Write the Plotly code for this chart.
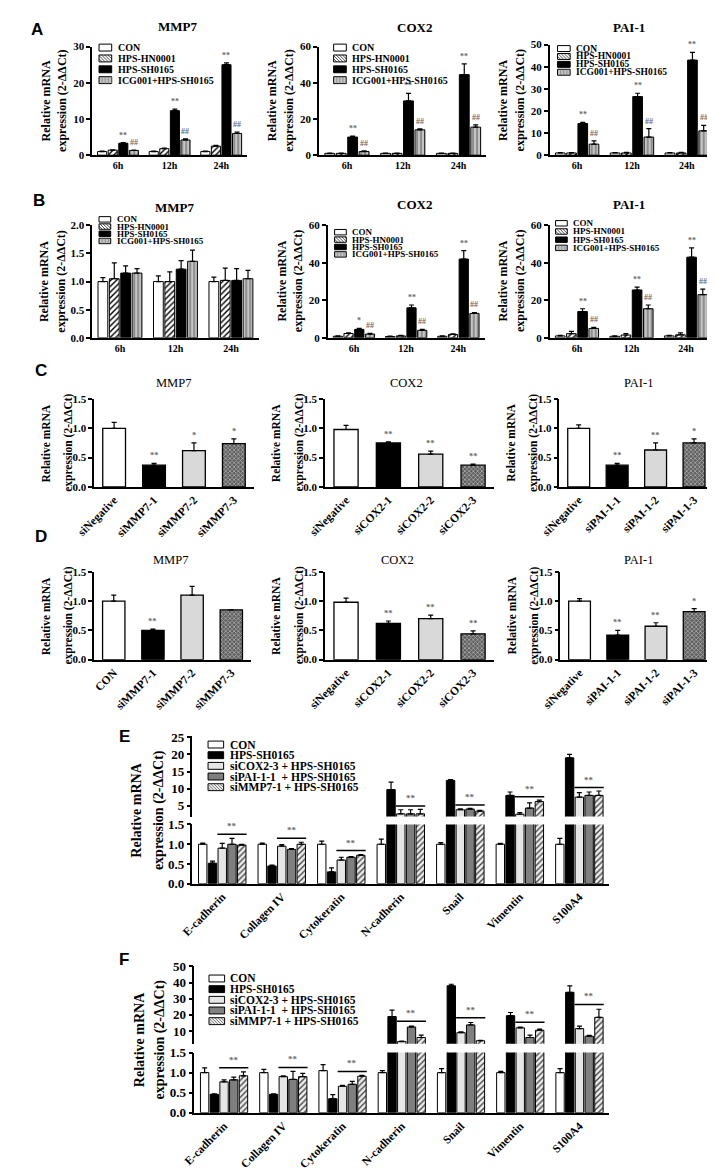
import plotly.graph_objects as go

W, H = 715, 1171
SERIF = "Liberation Serif"
SANS = "Liberation Sans"

# ---------- A / B : time course, four groups ----------
times = ["6h", "12h", "24h"]
ab_groups = ["CON", "HPS-HN0001", "HPS-SH0165", "ICG001+HPS-SH0165"]

a_mmp7 = [[1.0, 1.0, 1.0], [1.4, 1.8, 2.5], [3.3, 12.3, 25.0], [1.3, 4.2, 6.0]]
a_mmp7_err = [[0.1, 0.1, 0.1], [0.1, 0.15, 0.2], [0.2, 0.4, 0.5], [0.1, 0.3, 0.4]]
a_cox2 = [[1.0, 1.0, 1.0], [1.0, 1.0, 1.0], [10.0, 30.0, 44.5], [2.0, 14.0, 15.5]]
a_cox2_err = [[0.2, 0.2, 0.2], [0.2, 0.2, 0.2], [0.6, 4.2, 6.0], [0.4, 0.5, 1.2]]
a_pai1 = [[1.0, 1.0, 1.0], [1.0, 1.0, 1.0], [14.3, 26.5, 43.0], [5.0, 8.2, 11.0]]
a_pai1_err = [[0.2, 0.2, 0.2], [0.2, 0.3, 0.3], [0.5, 1.5, 3.5], [1.5, 3.8, 2.5]]

b_mmp7 = [[1.0, 1.0, 1.0], [1.05, 1.0, 1.02], [1.15, 1.22, 1.02], [1.15, 1.36, 1.05]]
b_mmp7_err = [[0.07, 0.1, 0.08], [0.28, 0.17, 0.22], [0.13, 0.15, 0.21], [0.08, 0.2, 0.15]]
b_cox2 = [[0.8, 0.7, 0.8], [2.3, 1.0, 1.8], [4.5, 16.0, 42.0], [2.0, 4.0, 13.0]]
b_cox2_err = [[0.2, 0.2, 0.2], [0.3, 0.3, 0.3], [0.5, 1.5, 4.5], [0.4, 0.5, 0.5]]
b_pai1 = [[1.0, 0.8, 1.0], [2.2, 1.5, 1.6], [14.0, 25.5, 43.0], [5.0, 15.5, 23.0]]
b_pai1_err = [[0.3, 0.3, 0.3], [1.2, 0.8, 1.0], [1.5, 1.5, 5.0], [0.6, 2.0, 3.0]]

sig_all = [["", "", ""], ["", "", ""], ["**", "**", "**"], ["##", "##", "##"]]
sig_none = [["", "", ""]] * 4
sig_b_cox2 = [["", "", ""], ["", "", ""], ["*", "**", "**"], ["##", "##", "##"]]

# ---------- C / D : siRNA knockdown ----------
c_mmp7_labels = ["siNegative", "siMMP7-1", "siMMP7-2", "siMMP7-3"]
c_cox2_labels = ["siNegative", "siCOX2-1", "siCOX2-2", "siCOX2-3"]
c_pai1_labels = ["siNegative", "siPAI-1-1", "siPAI-1-2", "siPAI-1-3"]
d_mmp7_labels = ["CON", "siMMP7-1", "siMMP7-2", "siMMP7-3"]

c_mmp7 = [1.0, 0.37, 0.62, 0.74]
c_mmp7_err = [0.1, 0.03, 0.13, 0.08]
c_mmp7_sig = ["", "**", "*", "*"]
c_cox2 = [0.98, 0.75, 0.56, 0.37]
c_cox2_err = [0.07, 0.02, 0.05, 0.02]
c_cox2_sig = ["", "**", "**", "**"]
c_pai1 = [1.0, 0.37, 0.63, 0.75]
c_pai1_err = [0.06, 0.03, 0.12, 0.07]
c_pai1_sig = ["", "**", "**", "*"]

d_mmp7 = [1.0, 0.5, 1.1, 0.85]
d_mmp7_err = [0.1, 0.02, 0.15, 0.0]
d_mmp7_sig = ["", "**", "", ""]
d_cox2 = [0.98, 0.62, 0.7, 0.44]
d_cox2_err = [0.07, 0.04, 0.06, 0.05]
d_cox2_sig = ["", "**", "**", "**"]
d_pai1 = [1.0, 0.42, 0.57, 0.82]
d_pai1_err = [0.04, 0.08, 0.06, 0.05]
d_pai1_sig = ["", "**", "**", "*"]

# ---------- E / F : EMT markers ----------
markers = ["E-cadherin", "Collagen IV", "Cytokeratin", "N-cadherin", "Snail", "Vimentin", "S100A4"]
ef_groups = ["CON", "HPS-SH0165", "siCOX2-3 + HPS-SH0165",
             "siPAI-1-1\u00a0 + HPS-SH0165", "siMMP7-1 + HPS-SH0165"]

e_vals = [[1.0, 1.0, 1.0, 1.0, 1.0, 1.0, 1.0],
          [0.52, 0.45, 0.3, 9.7, 12.4, 8.0, 19.0],
          [0.9, 0.95, 0.6, 2.6, 3.8, 2.5, 7.5],
          [1.0, 0.87, 0.67, 2.6, 4.0, 4.3, 8.0],
          [0.98, 1.0, 0.72, 2.6, 3.4, 6.2, 8.0]]
e_errs = [[0.03, 0.03, 0.08, 0.13, 0.04, 0.02, 0.15],
          [0.05, 0.02, 0.1, 2.2, 0.2, 1.0, 1.0],
          [0.12, 0.04, 0.07, 1.2, 0.3, 0.5, 1.3],
          [0.15, 0.02, 0.02, 1.2, 0.2, 1.5, 1.0],
          [0.02, 0.05, 0.02, 1.3, 0.2, 0.4, 1.3]]

f_vals = [[1.0, 1.0, 1.05, 1.0, 1.0, 1.0, 1.0],
          [0.46, 0.46, 0.35, 19.0, 38.0, 19.5, 34.0],
          [0.77, 0.9, 0.66, 3.5, 9.0, 12.0, 11.5],
          [0.82, 0.83, 0.71, 12.5, 13.8, 6.0, 6.8],
          [0.92, 0.9, 0.91, 6.0, 4.0, 10.5, 18.5]]
f_errs = [[0.12, 0.08, 0.15, 0.05, 0.1, 0.03, 0.1],
          [0.01, 0.01, 0.1, 4.0, 1.0, 2.0, 4.0],
          [0.05, 0.02, 0.02, 0.3, 0.5, 0.5, 1.5],
          [0.07, 0.2, 0.07, 0.5, 1.5, 1.5, 0.5],
          [0.1, 0.08, 0.02, 1.5, 0.3, 0.7, 5.0]]

# styles: (fill, pattern shape, pattern fg, pattern bg)
ab_styles = [("white", "", None, None), ("white", "/", "black", "white"),
             ("black", "", None, None), ("#c4c4c4", "|", "#777777", "#c4c4c4")]
cd_styles = [("white", "", None, None), ("black", "", None, None),
             ("#d9d9d9", "", None, None), ("#5e5e5e", "x", "#1a1a1a", "#5e5e5e")]
ef_styles = [("white", "", None, None), ("black", "", None, None),
             ("#e6e6e6", "", None, None), ("#7f7f7f", "", None, None),
             ("#eeeeee", "/", "#444444", "#eeeeee")]

YT1, YT2 = "Relative mRNA", "expression (2-ΔΔCt)"
GAP, GROUPGAP = 0.18, 0.14
SIGCOL = "#6a6a6a"

fig = go.Figure()
shapes, annos = [], []


def fx(px):
    return px / W


def fy(py):
    return 1 - py / H


def bold(size, color="black"):
    return dict(family=SERIF, size=size, color=color, weight="bold")


def make_axes(idx, x0, x1, ytop, ybot, yrange, yticks, cats, xfont=10, xangle=0,
              yfont=11, yfmt=None, showx=True):
    xn = "xaxis" if idx == 1 else f"xaxis{idx}"
    yn = "yaxis" if idx == 1 else f"yaxis{idx}"
    xax = dict(domain=[fx(x0), fx(x1)], anchor=f"y{idx}", type="category",
               categoryorder="array", categoryarray=cats, range=[-0.5, len(cats) - 0.5],
               showline=True, linecolor="black", linewidth=2, ticks="",
               tickfont=bold(xfont), tickangle=xangle, showgrid=False, zeroline=False)
    yax = dict(domain=[fy(ybot), fy(ytop)], anchor=f"x{idx}", range=yrange, tickvals=yticks,
               ticks="outside", ticklen=4, tickwidth=1.5, tickcolor="black",
               showline=True, linecolor="black", linewidth=1.5, tickfont=bold(yfont),
               showgrid=False, zeroline=False)
    if yfmt:
        yax["tickformat"] = yfmt
    if not showx:
        xax["visible"] = False
    fig.update_layout({xn: xax, yn: yax})
    return f"x{idx}", f"y{idx}"


def ytitle(axis_px, ytop, ybot, size, d1, d2):
    yc = (ytop + ybot) / 2
    for txt, d in ((YT1, d1), (YT2, d2)):
        annos.append(dict(xref="paper", yref="paper", x=fx(axis_px - d), y=fy(yc), text=txt,
                          textangle=-90, showarrow=False, xanchor="center", yanchor="middle",
                          font=bold(size)))


def bar_marker(st, psize=4):
    color, shape, fg, bg = st
    m = dict(color=color, line=dict(color="black", width=1))
    if shape:
        m["pattern"] = dict(shape=shape, fgcolor=fg, bgcolor=bg, size=psize,
                            solidity=0.35, fillmode="replace")
    return m


def err(e):
    return dict(type="data", array=e, arrayminus=[0] * len(e), symmetric=False,
                color="black", thickness=1.2, width=2.5)


def slot_x(g, i, n):
    slot = (1 - GAP) / n
    return g - (1 - GAP) / 2 + slot * (i + 0.5)


def grouped(xa, ya, cats, vals, errs, styles, sigs=None, sig_size=8):
    n = len(vals)
    for i, (v, e, st) in enumerate(zip(vals, errs, styles)):
        fig.add_trace(go.Bar(x=cats, y=v, xaxis=xa, yaxis=ya, marker=bar_marker(st),
                             error_y=err(e), showlegend=False))
        if sigs:
            for g, s in enumerate(sigs[i]):
                if s:
                    annos.append(dict(xref=xa, yref=ya, x=slot_x(g, i, n), y=v[g] + e[g],
                                      text=s, yshift=1, yanchor="bottom", showarrow=False,
                                      font=bold(sig_size, SIGCOL)))


def single(xa, ya, cats, vals, errs, styles, sigs):
    marker = dict(color=[s[0] for s in styles], line=dict(color="black", width=1.3),
                  pattern=dict(shape=[s[1] for s in styles],
                               fgcolor=[s[2] or "black" for s in styles],
                               size=3, solidity=0.45, fillmode="overlay"))
    fig.add_trace(go.Bar(x=cats, y=vals, xaxis=xa, yaxis=ya, width=0.57, marker=marker,
                         error_y=err(errs), showlegend=False))
    for g, s in enumerate(sigs):
        if s:
            annos.append(dict(xref=xa, yref=ya, x=g, y=vals[g] + errs[g], text=s, yshift=1,
                              yanchor="bottom", showarrow=False, font=bold(8.5, SIGCOL)))


def hatch(bx, by, bw, bh, shape, color, step=3.2):
    segs = []
    if shape == "|":
        u = step
        while u < bw:
            segs.append((bx + u, by, bx + u, by + bh))
            u += step
    if shape in ("/", "x"):
        c = step
        while c < bw + bh:
            u0, u1 = max(0, c - bh), min(bw, c)
            segs.append((bx + u0, by + bh - (c - u0), bx + u1, by + bh - (c - u1)))
            if shape == "x":
                segs.append((bx + bw - u0, by + bh - (c - u0), bx + bw - u1, by + bh - (c - u1)))
            c += step
    for x0, y0, x1, y1 in segs:
        shapes.append(dict(type="line", xref="paper", yref="paper", x0=fx(x0), y0=fy(y0),
                           x1=fx(x1), y1=fy(y1), line=dict(color=color, width=0.7)))


def legend(x0, y0, rowh, labels, styles, size, bw=13, bh=7):
    for k, (lab, st) in enumerate(zip(labels, styles)):
        yc = y0 + k * rowh
        color, shape, fg, bg = st
        shapes.append(dict(type="rect", xref="paper", yref="paper",
                           x0=fx(x0), x1=fx(x0 + bw), y0=fy(yc + bh / 2), y1=fy(yc - bh / 2),
                           fillcolor=bg if shape else color, line=dict(color="black", width=1)))
        if shape:
            hatch(x0, yc - bh / 2, bw, bh, shape, fg)
        annos.append(dict(xref="paper", yref="paper", x=fx(x0 + bw + 4), y=fy(yc),
                          xanchor="left", yanchor="middle", text=lab, showarrow=False,
                          font=bold(size)))


def text(px, py, s, size, weight="bold"):
    annos.append(dict(xref="paper", yref="paper", x=fx(px), y=fy(py), text=s,
                      showarrow=False, xanchor="center", yanchor="middle",
                      font=dict(family=SERIF, size=size, color="black", weight=weight)))


def letter(px, py, s):
    annos.append(dict(xref="paper", yref="paper", x=fx(px), y=fy(py), text=s,
                      showarrow=False, xanchor="left", yanchor="middle",
                      font=dict(family=SANS, size=17, color="black", weight="bold")))


# ---------------- panel A ----------------
letter(2, 15, "A")
xa, ya = make_axes(1, 67, 226, 32, 142, [0, 30], [0, 10, 20, 30], times)
grouped(xa, ya, times, a_mmp7, a_mmp7_err, ab_styles, sig_all)
xa, ya = make_axes(2, 300, 472, 32, 142, [0, 60], [0, 20, 40, 60], times)
grouped(xa, ya, times, a_cox2, a_cox2_err, ab_styles, sig_all)
xa, ya = make_axes(3, 537, 706, 30, 142, [0, 50], [0, 10, 20, 30, 40, 50], times)
grouped(xa, ya, times, a_pai1, a_pai1_err, ab_styles, sig_all)
for ax in (67, 300, 537):
    ytitle(ax, 32, 142, 12, 48, 31)
text(155, 12, "MMP7", 13)
text(398, 13, "COX2", 13)
text(618, 13, "PAI-1", 13)
legend(74, 33, 11, ab_groups, ab_styles, 10)
legend(315, 33, 11, ab_groups, ab_styles, 10)
legend(545, 34, 8, ab_groups, ab_styles, 9.5, bh=6)

# ---------------- panel B ----------------
letter(4, 188, "B")
xa, ya = make_axes(4, 67, 238, 213, 327, [0, 2.0], [0, 0.5, 1.0, 1.5, 2.0], times, yfmt=".1f")
grouped(xa, ya, times, b_mmp7, b_mmp7_err, ab_styles, sig_none)
xa, ya = make_axes(5, 309, 470, 213, 327, [0, 60], [0, 20, 40, 60], times)
grouped(xa, ya, times, b_cox2, b_cox2_err, ab_styles, sig_b_cox2)
xa, ya = make_axes(6, 537, 705, 213, 327, [0, 60], [0, 20, 40, 60], times)
grouped(xa, ya, times, b_pai1, b_pai1_err, ab_styles, sig_all)
ytitle(67, 213, 327, 12, 50, 33)
ytitle(309, 213, 327, 12, 48, 31)
ytitle(537, 213, 327, 12, 48, 31)
text(152, 195, "MMP7", 13)
text(398, 192, "COX2", 13)
text(618, 192, "PAI-1", 13)
legend(74, 207, 7.3, ab_groups, ab_styles, 9, bw=12, bh=5.5)
legend(316, 220, 7.5, ab_groups, ab_styles, 9, bw=12, bh=5.5)
legend(543, 211, 8.3, ab_groups, ab_styles, 9, bw=12, bh=5.5)

# ---------------- panel C ----------------
letter(6, 360, "C")
for idx, (x0, x1, cats, v, e, s, ttl, tx) in enumerate([
        (69, 233, c_mmp7_labels, c_mmp7, c_mmp7_err, c_mmp7_sig, "MMP7", 151),
        (306, 480, c_cox2_labels, c_cox2, c_cox2_err, c_cox2_sig, "COX2", 390),
        (547, 705, c_pai1_labels, c_pai1, c_pai1_err, c_pai1_sig, "PAI-1", 628)]):
    xa, ya = make_axes(7 + idx, x0, x1, 389, 478, [0, 1.5], [0, 0.5, 1.0, 1.5], cats,
                       xfont=11.5, xangle=-45, yfont=11, yfmt=".1f")
    single(xa, ya, cats, v, e, cd_styles, s)
    ytitle(x0, 389, 478, 11.5, 50, 26)
    text(tx, 373, ttl, 12.5, weight="normal")

# ---------------- panel D ----------------
letter(6, 528, "D")
for idx, (x0, x1, cats, v, e, s, ttl, tx) in enumerate([
        (69, 230, d_mmp7_labels, d_mmp7, d_mmp7_err, d_mmp7_sig, "MMP7", 147),
        (306, 480, c_cox2_labels, d_cox2, d_cox2_err, d_cox2_sig, "COX2", 381),
        (548, 705, c_pai1_labels, d_pai1, d_pai1_err, d_pai1_sig, "PAI-1", 628)]):
    xa, ya = make_axes(10 + idx, x0, x1, 564, 653, [0, 1.5], [0, 0.5, 1.0, 1.5], cats,
                       xfont=11.5, xangle=-45, yfont=11, yfmt=".1f")
    single(xa, ya, cats, v, e, cd_styles, s)
    ytitle(x0, 564, 653, 11.5, 50, 26)
    text(tx, 552, ttl, 12.5, weight="normal")


# ---------------- panels E / F (broken y axis) ----------------
def broken(idx_hi, idx_lo, x0, x1, top_hi, bot_hi, top_lo, bot_lo, hi_range, hi_ticks,
           vals, errs, pad_hi):
    xh, yh = make_axes(idx_hi, x0, x1, top_hi, bot_hi, hi_range, hi_ticks, markers,
                       yfont=13, showx=False)
    xl, yl = make_axes(idx_lo, x0, x1, top_lo, bot_lo, [0, 1.5], [0, 0.5, 1.0, 1.5], markers,
                       xfont=11.5, xangle=-45, yfont=13, yfmt=".1f")
    fig.update_layout({f"xaxis{idx_hi}": dict(matches=xl)})
    grouped(xh, yh, markers, vals, errs, ef_styles)
    grouped(xl, yl, markers, vals, errs, ef_styles)
    n = len(vals)
    for g in range(len(markers)):
        upper = vals[1][g] > 1.5
        lvl = max(vals[i][g] + errs[i][g] for i in (2, 3, 4)) + (pad_hi if upper else 0.1)
        xr, yr = (xh, yh) if upper else (xl, yl)
        xa0 = slot_x(g, 2, n) - (1 - GAP) / n / 2
        xa1 = slot_x(g, 4, n) + (1 - GAP) / n / 2
        shapes.append(dict(type="line", xref=xr, yref=yr, x0=xa0, x1=xa1, y0=lvl, y1=lvl,
                           line=dict(color="black", width=1.5)))
        annos.append(dict(xref=xr, yref=yr, x=(xa0 + xa1) / 2, y=lvl, text="**", yshift=1,
                          yanchor="bottom", showarrow=False, font=bold(9, SIGCOL)))
    ytitle(x0, top_hi, bot_lo, 14, 57, 35)


letter(92, 731, "E")
broken(13, 14, 170, 598, 730, 812, 820, 880, [1.8, 25.5], [5, 10, 15, 20, 25],
       e_vals, e_errs, 1.0)
legend(186, 739, 10.8, ef_groups, ef_styles, 11.5, bw=16, bh=7)

letter(92, 957, "F")
broken(15, 16, 172, 598, 963, 1042, 1051, 1112, [2.2, 50.5], [10, 20, 30, 40, 50],
       f_vals, f_errs, 3.0)
legend(187, 976, 10.8, ef_groups, ef_styles, 11.5, bw=16, bh=7)

fig.update_layout(width=W, height=H, margin=dict(l=0, r=0, t=0, b=0),
                  paper_bgcolor="white", plot_bgcolor="white", showlegend=False,
                  barmode="group", bargap=GAP, bargroupgap=GROUPGAP,
                  shapes=shapes, annotations=annos)
fig.write_html("out.html")
